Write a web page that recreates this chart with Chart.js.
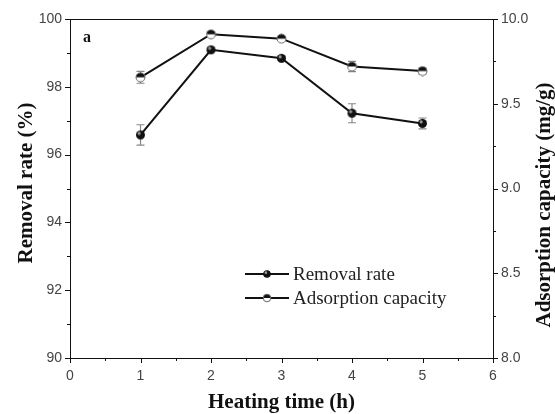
<!DOCTYPE html>
<html>
<head>
<meta charset="utf-8">
<script src="https://cdn.jsdelivr.net/npm/chart.js@4/dist/chart.umd.min.js"></script>
<style>
  html, body { margin: 0; padding: 0; background: #fff; }
  #wrap { width: 555px; height: 414px; position: relative; }
</style>
</head>
<body>
<div id="wrap"><canvas id="chart"></canvas></div>
<script>
// ── data ─────────────────────────────────────────────────
const heatingTime    = [1, 2, 3, 4, 5];
const removalRate    = [96.58, 99.09, 98.84, 97.22, 96.92];
const removalErr     = [0.30, 0.05, 0.06, 0.28, 0.16];
const adsorptionCap  = [9.656, 9.910, 9.884, 9.720, 9.693];
const adsorptionErr  = [0.035, 0.010, 0.010, 0.030, 0.018];

const xTicks  = [0, 1, 2, 3, 4, 5, 6];
const yTicks  = [90, 92, 94, 96, 98, 100];
const y1Ticks = [8.0, 8.5, 9.0, 9.5, 10.0];

const serif = '"Liberation Serif", "Times New Roman", serif';
const sans  = '"Liberation Sans", Arial, sans-serif';

// half-filled marker for adsorption capacity
function halfMarker(r) {
    const s = Math.ceil(r * 2 + 2), c0 = s / 2;
    const c = document.createElement('canvas');
    c.width = s; c.height = s;
    const g = c.getContext('2d');
    g.fillStyle = '#fff';
    g.beginPath(); g.arc(c0, c0, r, 0, Math.PI * 2); g.fill();
    g.fillStyle = '#111';
    g.beginPath(); g.arc(c0, c0, r, Math.PI, 0); g.closePath(); g.fill();
    g.strokeStyle = '#666'; g.lineWidth = 1;
    g.beginPath(); g.arc(c0, c0, r, 0, Math.PI * 2); g.stroke();
    return c;
}
function fullMarker(r) {
    const s = Math.ceil(r * 2 + 2), c0 = s / 2;
    const c = document.createElement('canvas');
    c.width = s; c.height = s;
    const g = c.getContext('2d');
    g.fillStyle = '#111';
    g.beginPath(); g.arc(c0, c0, r, 0, Math.PI * 2); g.fill();
    g.fillStyle = '#999';
    g.beginPath(); g.arc(c0 - r * 0.3, c0 - r * 0.35, r * 0.35, 0, Math.PI * 2); g.fill();
    return c;
}
const mRemoval = fullMarker(4.5);
const mAdsorb  = halfMarker(4.5);
const lgRemoval = fullMarker(3.8);
const lgAdsorb  = halfMarker(3.8);

// error bars, minor ticks, side titles, panel label, legend
const extras = {
    id: 'extras',
    beforeDatasetsDraw(chart) {
        const { ctx, scales } = chart;
        ctx.save();
        ctx.strokeStyle = '#888';
        ctx.lineWidth = 1.2;
        const bars = (vals, errs, yScale) => {
            heatingTime.forEach((t, i) => {
                const x = scales.x.getPixelForValue(t);
                const y0 = yScale.getPixelForValue(vals[i] - errs[i]);
                const y1 = yScale.getPixelForValue(vals[i] + errs[i]);
                ctx.beginPath();
                ctx.moveTo(x, y0); ctx.lineTo(x, y1);
                ctx.moveTo(x - 4, y0); ctx.lineTo(x + 4, y0);
                ctx.moveTo(x - 4, y1); ctx.lineTo(x + 4, y1);
                ctx.stroke();
            });
        };
        bars(removalRate, removalErr, scales.y);
        bars(adsorptionCap, adsorptionErr, scales.y1);
        ctx.restore();
    },
    afterDraw(chart) {
        const { ctx, scales, chartArea: a } = chart;
        ctx.save();
        ctx.strokeStyle = '#111';
        ctx.lineWidth = 1;
        // frame
        ctx.strokeRect(Math.round(a.left) + 0.5, Math.round(a.top) + 0.5,
            Math.round(a.right - a.left), Math.round(a.bottom - a.top));
        ctx.beginPath();
        // x ticks (major + minor), outward
        for (let v = 0; v <= 6.001; v += 0.5) {
            const x = Math.round(scales.x.getPixelForValue(v)) + 0.5;
            const len = Number.isInteger(v) ? 5 : 3;
            ctx.moveTo(x, a.bottom); ctx.lineTo(x, a.bottom + len);
        }
        // left ticks
        for (let v = 90; v <= 100; v += 1) {
            const y = Math.round(scales.y.getPixelForValue(v)) + 0.5;
            const len = v % 2 === 0 ? 5 : 3;
            ctx.moveTo(a.left, y); ctx.lineTo(a.left - len, y);
        }
        // right ticks
        for (let v = 8; v <= 10.001; v += 0.25) {
            const y = Math.round(scales.y1.getPixelForValue(v)) + 0.5;
            const len = Math.abs(v * 2 - Math.round(v * 2)) < 1e-6 ? 5 : 3;
            ctx.moveTo(a.right, y); ctx.lineTo(a.right + len, y);
        }
        ctx.stroke();

        // side titles, both reading bottom to top
        ctx.fillStyle = '#111';
        ctx.font = 'bold 21px ' + serif;
        ctx.textAlign = 'center';
        ctx.textBaseline = 'middle';
        ctx.translate(27, 183);
        ctx.rotate(-Math.PI / 2);
        ctx.fillText('Removal rate (%)', 0, 0);
        ctx.setTransform(1, 0, 0, 1, 0, 0);
        ctx.translate(545, 205);
        ctx.rotate(-Math.PI / 2);
        ctx.fillText('Adsorption capacity (mg/g)', 0, 0);
        ctx.setTransform(1, 0, 0, 1, 0, 0);

        // panel label
        ctx.font = 'bold 16px ' + serif;
        ctx.textAlign = 'left';
        ctx.fillText('a', 83, 38);

        // legend
        const items = [['Removal rate', lgRemoval], ['Adsorption capacity', lgAdsorb]];
        items.forEach(([label, img], i) => {
            const y = 274 + i * 24;
            ctx.strokeStyle = '#111';
            ctx.lineWidth = 2;
            ctx.beginPath(); ctx.moveTo(245, y); ctx.lineTo(289, y); ctx.stroke();
            ctx.drawImage(img, 267 - img.width / 2, y - img.height / 2);
            ctx.fillStyle = '#222';
            ctx.font = '19px ' + serif;
            ctx.textAlign = 'left';
            ctx.fillText(label, 293, y + 1);
        });
        ctx.restore();
    }
};

new Chart(document.getElementById('chart'), {
    type: 'line',
    data: {
        datasets: [
            {
                label: 'Removal rate',
                data: heatingTime.map((t, i) => ({ x: t, y: removalRate[i] })),
                yAxisID: 'y',
                borderColor: '#111',
                borderWidth: 2,
                pointStyle: mRemoval,
                tension: 0
            },
            {
                label: 'Adsorption capacity',
                data: heatingTime.map((t, i) => ({ x: t, y: adsorptionCap[i] })),
                yAxisID: 'y1',
                borderColor: '#111',
                borderWidth: 2,
                pointStyle: mAdsorb,
                tension: 0
            }
        ]
    },
    options: {
        responsive: true,
        maintainAspectRatio: false,
        animation: false,
        layout: { padding: { top: 19, left: 0, right: 0, bottom: 0 } },
        plugins: { legend: { display: false }, tooltip: { enabled: false } },
        scales: {
            x: {
                type: 'linear', min: 0, max: 6,
                afterFit: s => { s.height = 56; },
                afterBuildTicks: s => { s.ticks = xTicks.map(v => ({ value: v })); },
                grid: { display: false, drawTicks: false },
                border: { display: false },
                ticks: { color: '#444', font: { family: sans, size: 14 }, padding: 10 },
                title: { display: true, text: 'Heating time (h)', color: '#111',
                         font: { family: serif, size: 21, weight: 'bold' }, padding: { top: 0, bottom: -1 } }
            },
            y: {
                position: 'left', min: 90, max: 100,
                afterFit: s => { s.width = 70; },
                afterBuildTicks: s => { s.ticks = yTicks.map(v => ({ value: v })); },
                grid: { display: false, drawTicks: false },
                border: { display: false },
                ticks: { color: '#444', font: { family: sans, size: 14 }, padding: 8 }
            },
            y1: {
                position: 'right', min: 8, max: 10,
                afterFit: s => { s.width = 62; },
                afterBuildTicks: s => { s.ticks = y1Ticks.map(v => ({ value: v })); },
                grid: { display: false, drawTicks: false },
                border: { display: false },
                ticks: { color: '#444', font: { family: sans, size: 14 }, padding: 8,
                         callback: v => v.toFixed(1) }
            }
        }
    },
    plugins: [extras]
});
</script>
</body>
</html>
